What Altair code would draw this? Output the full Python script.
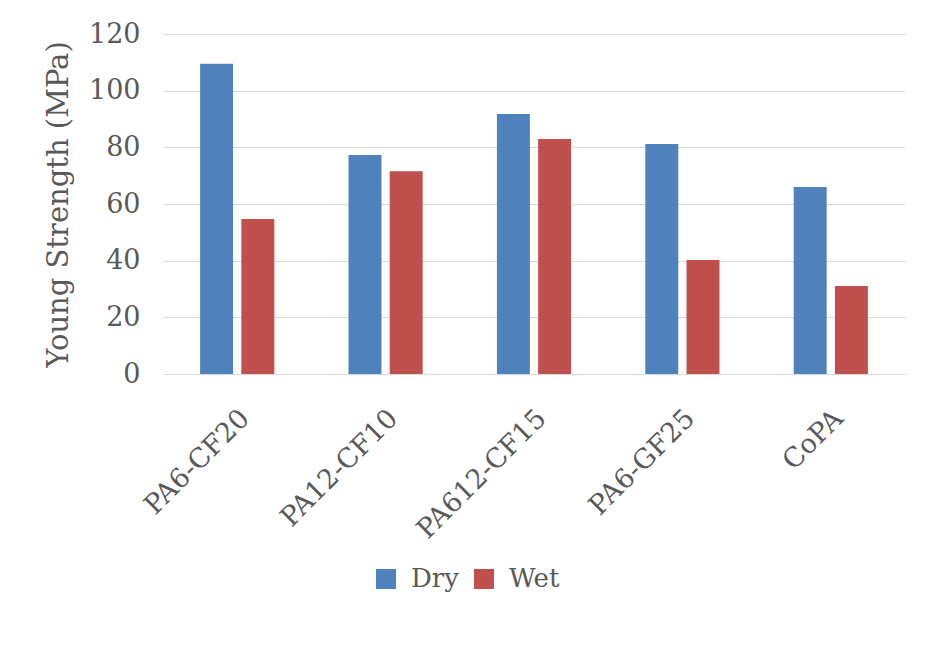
import altair as alt
import pandas as pd

categories = ["PA6-CF20", "PA12-CF10", "PA612-CF15", "PA6-GF25", "CoPA"]
dry = [109.5, 77.3, 91.8, 81.2, 66.0]
wet = [54.7, 71.6, 82.9, 40.2, 31.1]
series = ["Dry", "Wet"]
colors = ["#4F81BD", "#C0504D"]

rows = []
for c, d, w in zip(categories, dry, wet):
    rows.append({"Material": c, "Condition": "Dry", "Value": d})
    rows.append({"Material": c, "Condition": "Wet", "Value": w})
df = pd.DataFrame(rows)

FONT = "DejaVu Serif"
TXT = "#595959"

chart = alt.Chart(df).mark_bar().encode(
    x=alt.X("Material:N", sort=categories,
            scale=alt.Scale(paddingInner=0.5, paddingOuter=0.25),
            axis=alt.Axis(title=None, labelAngle=-45, labelAlign="right",
                          labelBaseline="middle", labelPadding=40, labelOffset=8,
                          labelFontSize=27, labelFont=FONT, labelColor=TXT,
                          ticks=False, domainColor="#d9d9d9", grid=False)),
    xOffset=alt.XOffset("Condition:N", sort=series,
                        scale=alt.Scale(paddingInner=0.2, paddingOuter=0)),
    y=alt.Y("Value:Q", scale=alt.Scale(domain=[0, 120]),
            axis=alt.Axis(title="Young Strength (MPa)", values=[0, 20, 40, 60, 80, 100, 120],
                          labelFontSize=27, labelFont=FONT, labelColor=TXT, labelPadding=23,
                          ticks=False, domain=False, gridColor="#d9d9d9",
                          titleFont=FONT, titleFontSize=29, titleColor=TXT,
                          titleFontWeight="normal", titleX=-105, titleY=170,
                          titleBaseline="middle")),
    color=alt.Color("Condition:N", sort=series,
                    scale=alt.Scale(domain=series, range=colors),
                    legend=alt.Legend(title=None, orient="none", legendX=210, legendY=532,
                                      direction="horizontal", symbolType="square",
                                      symbolSize=400, symbolStrokeWidth=0,
                                      labelFontSize=26, labelFont=FONT, labelColor=TXT,
                                      labelOffset=12, columnPadding=12)),
).properties(
    width=742, height=340,
    background="white",
    autosize=alt.AutoSizeParams(type="none"),
    padding={"left": 155, "top": 26, "right": 22, "bottom": 265},
).configure_view(stroke=None, strokeWidth=0)

chart.save("out.html", embed_options={"renderer": "svg", "actions": False})
